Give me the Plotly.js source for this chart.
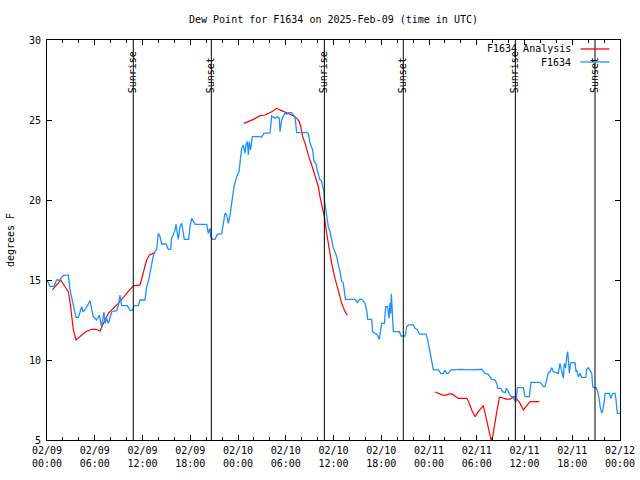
<!DOCTYPE html>
<html>
<head>
<meta charset="utf-8">
<script src="https://cdn.plot.ly/plotly-3.0.1.min.js"></script>
<style>html,body{margin:0;padding:0;background:#fff;}</style>
</head>
<body>
<div id="chart" style="width:640px;height:480px;"></div>
<script>
// Start of the time window (UTC); all times below are hours since this moment
const START = '2025-02-09T00:00:00Z';
const END = '2025-02-12T00:00:00Z';

// Observed dew point (F1634), hours since start
const obsHours = [0.04,0.38,0.88,1.2,1.63,1.84,2.14,2.68,2.89,3.31,3.64,3.94,4.36,4.56,4.98,5.40,5.82,6.24,6.57,6.87,7.16,7.29,7.50,7.71,7.92,8.13,8.76,8.96,9.17,9.38,10.09,10.43,10.76,10.93,11.48,11.69,12.31,12.52,12.73,12.94,13.15,13.36,13.57,13.78,13.99,14.2,14.41,14.95,15.25,15.54,15.66,15.87,16.08,16.21,16.38,16.5,16.71,16.92,17.13,17.26,17.8,17.97,18.18,18.39,18.6,20.07,20.27,20.48,20.57,20.82,21.11,21.4,21.95,22.16,22.37,22.58,22.78,23.0,23.2,23.5,23.83,24.13,24.34,24.46,24.67,24.88,25.0,25.17,25.3,25.42,25.59,25.8,26.68,26.97,27.27,27.81,28.02,28.23,28.65,28.94,29.19,29.28,29.49,29.7,29.91,30.12,30.33,30.74,30.95,31.16,31.37,32.63,32.84,33.05,33.38,33.55,33.8,33.9,34.3,34.5,34.64,34.81,34.85,35.14,35.35,35.56,35.77,35.98,36.19,36.4,36.61,36.82,37.03,37.2,37.32,37.49,38.7,39.0,39.25,39.54,39.96,40.17,40.3,40.8,40.92,41.1,41.5,41.76,41.93,42.05,42.4,42.56,42.8,42.98,43.1,43.18,43.27,43.4,43.52,44.28,44.49,44.99,45.2,45.41,46.03,46.24,46.53,46.79,47.63,47.8,47.92,48.13,48.34,48.47,48.55,49.2,49.47,49.8,50.01,50.22,50.43,50.73,52.0,53.5,54.62,55.04,55.45,55.67,55.88,56.3,56.51,56.63,57.0,57.26,57.55,57.75,57.97,58.18,58.4,58.6,58.72,58.94,59.1,59.85,60.06,60.6,60.82,61.95,62.16,62.37,62.58,62.79,63.0,63.21,63.42,63.63,64.04,64.25,64.46,64.67,64.88,65.0,65.17,65.3,65.42,65.55,65.63,65.8,65.93,66.35,66.47,66.55,66.76,66.97,67.18,67.7,67.82,68.03,68.24,68.45,68.57,68.74,69.0,69.2,69.37,69.5,69.71,69.84,70.05,70.12,70.66,70.83,71.08,71.37,71.5,71.67,72.0];
const obsDew = [14.96,14.6,14.6,15.0,15.0,15.17,15.3,15.3,14.4,13.3,12.67,12.67,13.33,13.0,13.3,13.7,12.7,12.5,12.8,12.06,13.0,12.3,12.6,12.3,12.6,13.0,13.1,13.4,14.06,13.4,13.4,13.1,13.1,13.4,13.4,13.75,13.75,14.58,14.9,15.5,16.04,16.5,16.77,16.92,17.92,17.71,17.25,17.25,16.92,16.92,17.6,17.85,18.1,18.48,17.92,17.54,18.33,18.54,17.92,17.54,17.54,18.33,18.85,18.65,18.48,18.48,17.92,18.23,17.71,17.54,17.54,17.85,17.9,18.54,19.17,19.06,18.54,19.06,19.79,20.83,21.46,21.77,22.71,23.23,23.44,22.92,23.44,23.65,22.81,23.65,23.13,23.96,23.96,23.92,24.17,24.2,24.2,25.25,25.1,25.2,25.1,24.27,25.0,25.25,25.42,25.35,25.46,25.46,25.35,25.2,24.21,24.23,24.15,23.54,23.13,22.4,22.29,21.98,21.25,21.2,20.83,20.52,20.0,18.96,18.33,18.02,17.5,16.98,16.77,16.46,15.94,15.52,14.9,14.85,14.48,13.79,13.79,13.6,13.79,13.79,13.54,13.1,12.54,12.54,11.77,11.7,11.56,11.29,12.08,12.29,12.29,13.33,13.33,12.6,13.58,12.9,14.12,13.1,11.77,11.77,11.5,11.5,12.08,12.19,12.19,11.98,11.9,11.62,11.62,11.35,11.04,10.6,10.1,9.56,9.38,9.38,9.17,9.17,9.38,9.17,9.17,9.38,9.42,9.38,9.42,9.17,9.1,8.96,8.79,8.75,8.54,8.23,8.23,8.02,7.96,8.23,8.02,7.81,7.71,7.71,7.5,7.4,8.27,8.27,7.71,7.71,8.6,8.6,8.5,8.33,8.33,8.75,9.21,9.27,9.52,9.27,9.17,9.17,9.79,9.27,8.85,9.79,9.5,10.21,10.52,9.79,9.17,9.79,9.83,9.83,9.27,9.38,8.96,9.17,8.92,8.92,9.42,9.52,9.38,9.17,8.33,8.27,8.27,8.02,7.6,7.08,6.67,6.88,7.5,7.92,7.92,7.6,7.92,7.92,7.5,6.67,6.67];

// Analysis dew point (F1634 Analysis): three separate segments, null splits them
const anaHours = [0.67,1.21,1.72,2.26,2.68,2.89,3.1,3.31,3.64,4.36,4.86,5.61,6.16,6.66,6.87,7.29,7.71,8.34,8.96,10.01,10.85,11.69,12.1,12.52,12.86,13.57,
  19.0,
  24.75,25.93,26.77,27.39,28.23,28.86,29.28,29.91,30.95,31.37,31.71,31.88,32.13,32.42,32.63,32.97,33.26,33.47,33.8,34.1,34.3,34.85,35.14,35.48,35.77,36.19,36.61,37.03,37.45,37.74,
  43.0,
  48.76,49.18,49.72,50.2,50.56,50.9,51.27,51.69,52.74,52.95,53.37,53.78,54.2,54.83,55.0,55.25,55.45,55.67,55.8,56.0,56.3,56.59,56.84,57.1,57.68,58.2,58.6,58.81,59.0,59.44,59.86,60.28,60.7,61.87];
const anaDew = [14.38,14.69,15.0,14.58,14.27,13.65,12.71,11.88,11.25,11.56,11.77,11.92,11.92,11.81,12.08,12.5,12.92,13.23,13.54,14.17,14.63,14.69,15.42,16.25,16.56,16.71,
  null,
  24.79,25.04,25.27,25.31,25.52,25.73,25.63,25.48,25.27,25.1,24.9,24.58,23.96,23.54,23.13,22.6,22.19,21.88,21.35,20.83,20.21,18.96,17.92,16.88,16.04,15.1,14.38,13.54,13.02,12.81,
  null,
  8.0,7.92,7.81,7.81,7.88,7.88,7.75,7.6,7.6,7.44,6.88,6.46,6.77,7.15,6.77,6.25,5.73,5.31,5.0,5.21,6.25,6.98,7.67,7.67,7.56,7.56,7.67,7.71,7.6,7.29,6.88,7.13,7.4,7.4];

// Sun events, hours since start
const sunHours = [10.84, 20.65, 34.85, 44.77, 58.85, 68.86];
const sunLabels = ['Sunrise','Sunset','Sunrise','Sunset','Sunrise','Sunset'];

const seriesNames = ['F1634 Analysis', 'F1634'];
const seriesColors = ['#ff0000', '#1e90ff'];

const base = Date.parse(START);
function toTime(h) {
  if (h === null) return null;
  return new Date(base + h * 3600000).toISOString().replace('T', ' ').slice(0, 19);
}
const startStr = toTime(0), endStr = toTime(72);

const traces = [
  {x: anaHours.map(toTime), y: anaDew, name: seriesNames[0], type: 'scatter', mode: 'lines',
   connectgaps: false, line: {color: seriesColors[0], width: 1.2}, hoverinfo: 'x+y'},
  {x: obsHours.map(toTime), y: obsDew, name: seriesNames[1], type: 'scatter', mode: 'lines',
   line: {color: seriesColors[1], width: 1.3}, hoverinfo: 'x+y'}
];

const shapes = sunHours.map(h => ({type: 'line', xref: 'x', yref: 'paper', x0: toTime(h), x1: toTime(h), y0: 0, y1: 1,
  line: {color: 'black', width: 1}}));
const annotations = sunHours.map((h, i) => ({x: toTime(h), xref: 'x', y: (440 - 95) / 400, yref: 'paper',
  text: sunLabels[i], textangle: -90, showarrow: false, xanchor: 'center', yanchor: 'bottom',
  font: {family: 'DejaVu Sans Mono', size: 10, color: 'black'}}));

// key (gnuplot style: text on the left, sample on the right)
const keyY = [(440 - 49) / 400, (440 - 62) / 400];
seriesNames.forEach((n, i) => {
  annotations.push({x: (573 - 47) / 573, xref: 'paper', y: keyY[i], yref: 'paper', text: n, showarrow: false,
    xanchor: 'right', yanchor: 'middle', font: {family: 'DejaVu Sans Mono', size: 10, color: 'black'}});
  shapes.push({type: 'line', xref: 'paper', yref: 'paper', x0: (580.5 - 47) / 573, x1: (609.5 - 47) / 573,
    y0: keyY[i], y1: keyY[i], line: {color: seriesColors[i], width: 1.3}});
});

const layout = {
  width: 640, height: 480,
  margin: {l: 47, r: 20, t: 40, b: 40, pad: 0},
  paper_bgcolor: 'white', plot_bgcolor: 'white',
  font: {family: 'DejaVu Sans Mono', size: 10, color: 'black'},
  showlegend: false,
  title: {text: 'Dew Point for F1634 on 2025-Feb-09 (time in UTC)', x: 0.5, xref: 'paper', xanchor: 'center',
    y: 1 - 19 / 480, yref: 'container', yanchor: 'middle', font: {family: 'DejaVu Sans Mono', size: 10, color: 'black'}},
  xaxis: {type: 'date', range: [startStr, endStr], tickmode: 'linear', tick0: startStr, dtick: 6 * 3600000,
    tickformat: '%m/%d<br>%H:%M', ticks: 'inside', ticklen: 5, tickcolor: 'black', tickwidth: 1,
    showline: true, linecolor: 'black', linewidth: 1, mirror: 'ticks', showgrid: false, zeroline: false,
    automargin: false, ticklabelstandoff: 1, tickfont: {family: 'DejaVu Sans Mono', size: 10, color: 'black'},
    minor: {tick0: startStr, dtick: 2 * 3600000, ticks: 'inside', ticklen: 3, tickcolor: 'black', showgrid: false}},
  yaxis: {range: [5, 30], tickmode: 'linear', tick0: 5, dtick: 5, ticks: 'inside', ticklen: 5, tickcolor: 'black',
    showline: true, linecolor: 'black', linewidth: 1, mirror: 'ticks', showgrid: false, zeroline: false,
    automargin: false, ticklabelstandoff: 3, tickfont: {family: 'DejaVu Sans Mono', size: 10, color: 'black'},
    title: {text: 'degrees F', standoff: 12, font: {family: 'DejaVu Sans Mono', size: 10, color: 'black'}}},
  shapes: shapes,
  annotations: annotations
};

Plotly.newPlot('chart', traces, layout, {displayModeBar: false, staticPlot: true});
</script>
</body>
</html>
